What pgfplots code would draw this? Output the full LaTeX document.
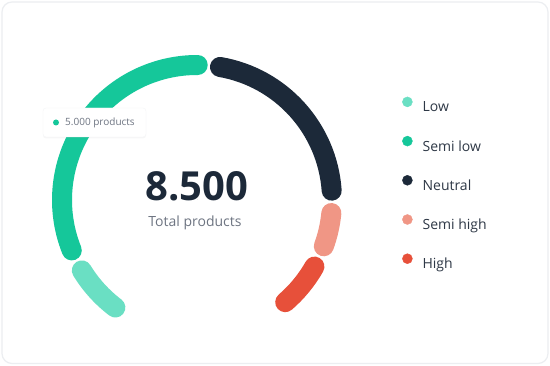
\documentclass[border=0pt]{standalone}
\usepackage{pgfplots}
\usepackage{pgfplotstable}
\pgfplotsset{compat=1.18}
\usepackage{fontspec}
\setmainfont{Open Sans}
\usetikzlibrary{shadows}

\definecolor{lowc}{HTML}{6ADFC3}
\definecolor{semilowc}{HTML}{15C79A}
\definecolor{neutralc}{HTML}{1C2939}
\definecolor{semihighc}{HTML}{F09685}
\definecolor{highc}{HTML}{E7503A}
\definecolor{inkc}{HTML}{1C2939}
\definecolor{mutedc}{HTML}{6E7582}
\definecolor{legc}{HTML}{2E3846}
\definecolor{cardc}{HTML}{ECEEF1}

% products per level, 8.500 in all
\pgfplotstableread{
label     value col
Low        900  lowc
Semilow   3550  semilowc
Neutral   2500  neutralc
Semihigh   700  semihighc
High       850  highc
}\levels
\pgfplotstablecreatecol[create col/expr accum={\pgfmathaccuma+\thisrow{value}}{0}]{cum}\levels
% every arc is drawn round the gauge centre
\pgfplotstablecreatecol[create col/set={197}]{cx}\levels
\pgfplotstablecreatecol[create col/set={200}]{cy}\levels

% gauge geometry, 1pt = 1px
\def\gStart{232.8}  % angle of the first cap
\def\gSweep{291.5}  % degrees for the whole total, one gap included
\def\gGap{9.5}
\def\gRad{135pt}

\begin{document}
\begin{tikzpicture}
\begin{axis}[
  x=1pt, y=1pt, xmin=0, xmax=550, ymin=0, ymax=366,
  y dir=reverse, hide axis, clip=false,
  legend cell align=left,
  legend style={at={(axis cs:402,96.5)}, anchor=north west, draw=none, fill=none,
    inner sep=0pt, row sep=24pt, column sep=0pt,
    font=\fontsize{14}{16}\selectfont, text=legc,
    nodes={inner sep=0pt, text height=10pt, text depth=0pt}},
]
\fill[white] (axis cs:0,0) rectangle (axis cs:550,366);
\draw[cardc, line width=1.2pt, rounded corners=10pt] (axis cs:2,2) rectangle (axis cs:548,363.5);

\addplot[forget plot, scatter, only marks, mark=*, mark size=0pt,
  point meta=explicit symbolic,
  visualization depends on={\thisrow{value} \as \val},
  visualization depends on={\thisrow{cum} \as \cum},
  scatter/@pre marker code/.code={%
    \pgfmathsetmacro\aS{\gStart-(\cum-\val)/8500*\gSweep}%
    \pgfmathsetmacro\aE{\aS-\val/8500*\gSweep+\gGap}%
    \edef\segcol{\pgfplotspointmeta}%
    \draw[line width=20pt, line cap=round, draw=\segcol, draw opacity=1]
      (\aS:\gRad) arc[start angle=\aS, end angle=\aE, radius=\gRad];
  },
  scatter/@post marker code/.code={},
] table[x=cx, y=cy, meta=col] {\levels};

\addlegendimage{color=lowc, legend image code/.code={\fill (5pt,5pt) circle (5pt);}}
\addlegendentry{\hspace{10pt}Low}
\addlegendimage{color=semilowc, legend image code/.code={\fill (5pt,5pt) circle (5pt);}}
\addlegendentry{\hspace{10pt}Semi low}
\addlegendimage{color=neutralc, legend image code/.code={\fill (5pt,5pt) circle (5pt);}}
\addlegendentry{\hspace{10pt}Neutral}
\addlegendimage{color=semihighc, legend image code/.code={\fill (5pt,5pt) circle (5pt);}}
\addlegendentry{\hspace{10pt}Semi high}
\addlegendimage{color=highc, legend image code/.code={\fill (5pt,5pt) circle (5pt);}}
\addlegendentry{\hspace{10pt}High}

% centre
\node[inner sep=0pt, font=\fontsize{40}{42}\selectfont\bfseries, text=inkc] at (axis cs:197,186) {8.500};
\node[anchor=base, inner sep=0pt, font=\fontsize{14}{16}\selectfont, text=mutedc] at (axis cs:195,227) {Total products};

\coordinate (tip) at (axis cs:94.5,122.5);
\coordinate (tipdot) at (axis cs:56,122.5);
\coordinate (tiptext) at (axis cs:65,122.5);
\end{axis}

% tooltip, drawn over the arc
\node[fill=white, draw=cardc!60, rounded corners=3pt, minimum width=103pt, minimum height=29pt,
  drop shadow={opacity=0.06, shadow xshift=0pt, shadow yshift=-1.5pt}] at (tip) {};
\fill[semilowc] (tipdot) circle (3pt);
\node[anchor=west, inner sep=0pt, font=\fontsize{10}{12}\selectfont, text=mutedc] at (tiptext) {5.000 products};
\end{tikzpicture}
\end{document}
